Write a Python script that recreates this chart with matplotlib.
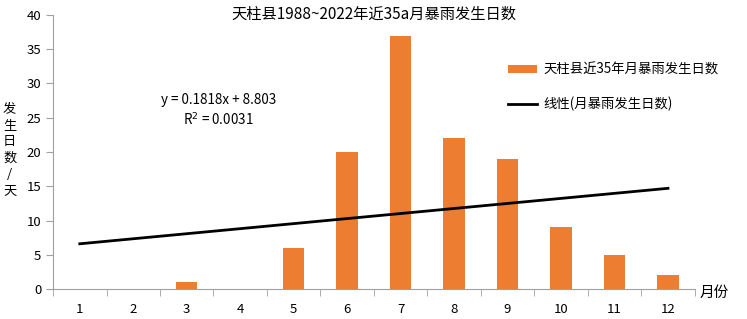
import matplotlib.pyplot as plt

plt.rcParams['font.family'] = ['Noto Sans CJK SC', 'DejaVu Sans']

# monthly rainstorm days, Tianzhu county 1988-2022
months = [1, 2, 3, 4, 5, 6, 7, 8, 9, 10, 11, 12]
days = [0, 0, 1, 0, 6, 20, 37, 22, 19, 9, 5, 2]
# trend line as drawn (values at month 1 and month 12)
trend_x = [1, 12]
trend_y = [6.6, 14.7]

fig = plt.figure(figsize=(7.47, 3.19), dpi=100)
ax = fig.add_axes([0.071, 0.094, 0.859, 0.859])

bars = ax.bar(months, days, width=0.4, color='#ED7D31')
line, = ax.plot(trend_x, trend_y, color='black', linewidth=2)

ax.set_xlim(0.5, 12.5)
ax.set_ylim(0, 40)
ax.set_yticks(range(0, 41, 5))
ax.set_xticks(months)
ax.set_xticks([m + 0.5 for m in range(0, 13)], minor=True)
ax.tick_params(axis='x', which='major', length=0, pad=10, labelsize=9.5)
ax.tick_params(axis='x', which='minor', length=5, color='#a0a0a0', direction='out')
ax.tick_params(axis='y', length=5, color='#a0a0a0', labelsize=9.5)
for s in ['top', 'right']:
    ax.spines[s].set_visible(False)
for s in ['left', 'bottom']:
    ax.spines[s].set_color('#a0a0a0')

fig.text(0.5, 1 - 14 / 319, '天柱县1988~2022年近35a月暴雨发生日数', fontsize=11,
         ha='center', va='center', fontweight='medium')
fig.text(0.013, 0.53, '发\n生\n日\n数\n/\n天', fontsize=9.5, ha='center', va='center',
         linespacing=1.35)
fig.text(0.937, 0.083, '月份', fontsize=10.5, ha='left', va='center')

ax.text(3.6, 27.6, 'y = 0.1818x + 8.803', fontsize=9.7, ha='center', va='center')
ax.text(3.6, 24.7, 'R$^2$ = 0.0031', fontsize=9.7, ha='center', va='center')

ax.legend([bars, line], ['天柱县近35年月暴雨发生日数', '线性(月暴雨发生日数)'],
          loc='upper left', bbox_to_anchor=(0.69, 0.87), frameon=False, fontsize=9.6,
          handlelength=2.2, labelspacing=1.5, handleheight=0.6, handletextpad=0.5)

fig.savefig('out.png', dpi=100)
